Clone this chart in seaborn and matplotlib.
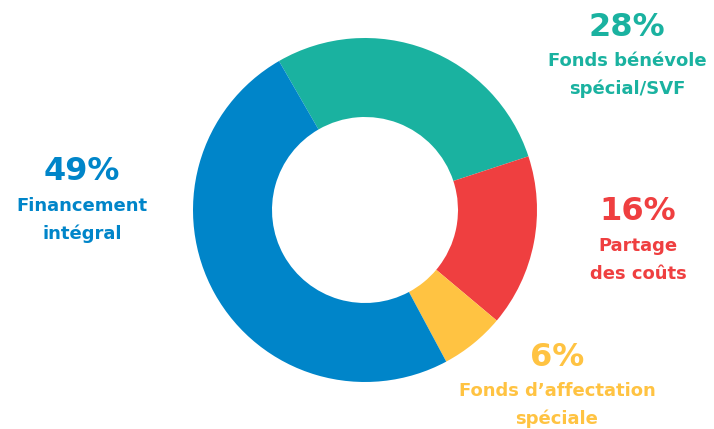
import matplotlib
matplotlib.use("Agg")
import matplotlib.pyplot as plt
import seaborn as sns

# data
categories = ["Fonds bénévole\nspécial/SVF", "Partage\ndes coûts",
              "Fonds d’affectation\nspéciale", "Financement\nintégral"]
shares = [28, 16, 6, 49]
colors = ["#1AB2A0", "#EF3F40", "#FFC342", "#0085C9"]

# label anchors (pixel coords, y from top) for each category
label_pos = [(627, 27), (638, 212), (557, 357), (82, 172)]

sns.set_theme(style="white")
plt.rcParams["font.family"] = ["DejaVu Sans"]

W, H = 714, 429
fig = plt.figure(figsize=(W / 100, H / 100), dpi=100)
ax = fig.add_axes([0, 0, 1, 1])

ax.pie(shares, colors=colors, startangle=120, counterclock=False,
       center=(365, H - 210), radius=172,
       wedgeprops=dict(width=79, edgecolor="none"), frame=True)
ax.set_xlim(0, W)
ax.set_ylim(0, H)
ax.set_aspect("equal")
ax.axis("off")

for cat, val, col, (x, y) in zip(categories, shares, colors, label_pos):
    ax.text(x, H - y, f"{val}%", color=col, fontsize=23, fontweight="bold",
            ha="center", va="center")
    for i, line in enumerate(cat.split("\n")):
        ax.text(x, H - y - 34 - 28 * i, line, color=col, fontsize=13,
                fontweight="bold", ha="center", va="center")

fig.savefig("out.png", dpi=100)
